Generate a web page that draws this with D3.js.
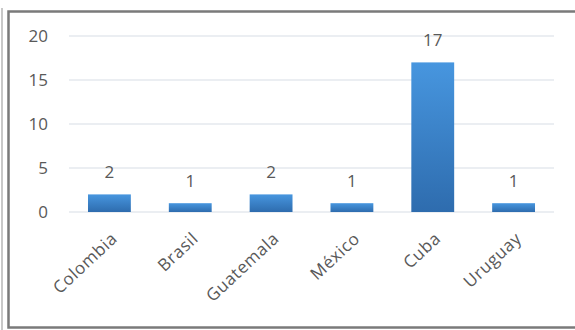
<!DOCTYPE html>
<html>
<head>
<meta charset="utf-8">
<script src="https://cdn.jsdelivr.net/npm/d3@7"></script>
<style>
  body { margin: 0; background: #fff; }
  svg { display: block; }
</style>
</head>
<body>
<div id="chart"></div>
<script>
const countries = ["Colombia", "Brasil", "Guatemala", "México", "Cuba", "Uruguay"];
const counts = [2, 1, 2, 1, 17, 1];
const yTicks = [0, 5, 10, 15, 20];

const w = 575;
const h = 330;
const font = "Open Sans, sans-serif";

const svg = d3.select("#chart")
  .append("svg")
  .attr("width", w)
  .attr("height", h);

// gradient for bars
const grad = svg.append("defs")
  .append("linearGradient")
  .attr("id", "barGrad")
  .attr("x1", 0).attr("y1", 0).attr("x2", 0).attr("y2", 1);
grad.append("stop").attr("offset", "0%").attr("stop-color", "#4796df");
grad.append("stop").attr("offset", "100%").attr("stop-color", "#2e6cae");

// frame
svg.append("line")
  .attr("x1", 2).attr("x2", 2).attr("y1", 8).attr("y2", 330)
  .attr("stroke", "#c8c8c8").attr("stroke-width", 2);
svg.append("rect")
  .attr("x", 8.5).attr("y", 11.5)
  .attr("width", 580).attr("height", 316)
  .attr("fill", "none")
  .attr("stroke", "#7a7a7a")
  .attr("stroke-width", 2.5);

const xScale = d3.scaleBand()
  .domain(countries)
  .range([69, 554])
  .paddingInner(0.47)
  .paddingOuter(0.235);

const yScale = d3.scaleLinear()
  .domain([0, 20])
  .range([212, 36]);

// gridlines
svg.append("g")
  .selectAll("line")
  .data(yTicks)
  .enter()
  .append("line")
  .attr("x1", 69)
  .attr("x2", 554)
  .attr("y1", d => yScale(d))
  .attr("y2", d => yScale(d))
  .attr("stroke", "#e4e8ee")
  .attr("stroke-width", 1.5);

// y axis
const yAxis = d3.axisLeft(yScale)
  .tickValues(yTicks)
  .tickSize(0)
  .tickPadding(0);

svg.append("g")
  .attr("transform", "translate(48,0)")
  .call(yAxis)
  .call(g => g.select(".domain").remove())
  .selectAll("text")
  .attr("font-family", font)
  .attr("font-size", 17)
  .attr("fill", "#595959");

// bars
svg.selectAll(".bar")
  .data(counts)
  .enter()
  .append("rect")
  .attr("class", "bar")
  .attr("x", (d, i) => xScale(countries[i]))
  .attr("y", d => yScale(d))
  .attr("width", xScale.bandwidth())
  .attr("height", d => yScale(0) - yScale(d))
  .attr("fill", "url(#barGrad)");

// value labels
svg.selectAll(".val")
  .data(counts)
  .enter()
  .append("text")
  .attr("class", "val")
  .attr("x", (d, i) => xScale(countries[i]) + xScale.bandwidth() / 2)
  .attr("y", d => yScale(d) - 16)
  .attr("text-anchor", "middle")
  .attr("font-family", font)
  .attr("font-size", 17)
  .attr("fill", "#595959")
  .text(d => d);

// x axis labels
const xAxis = d3.axisBottom(xScale)
  .tickSize(0)
  .tickPadding(0);

svg.append("g")
  .attr("transform", "translate(0,212)")
  .call(xAxis)
  .call(g => g.select(".domain").remove())
  .selectAll("text")
  .attr("font-family", font)
  .attr("font-size", 17)
  .attr("letter-spacing", 0.6)
  .attr("fill", "#595959")
  .attr("text-anchor", "end")
  .attr("dy", 0)
  .attr("transform", "translate(9,28) rotate(-43)");
</script>
</body>
</html>
